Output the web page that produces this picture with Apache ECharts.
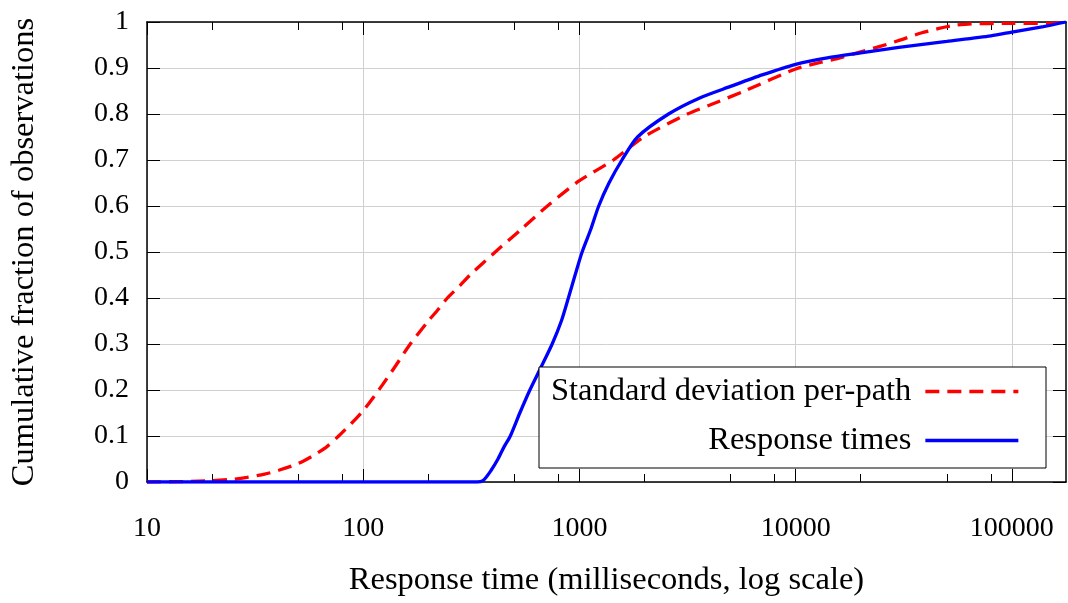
<!DOCTYPE html>
<html><head><meta charset="utf-8">
<script src="https://cdn.jsdelivr.net/npm/echarts@6/dist/echarts.min.js"></script>
<style>html,body{margin:0;padding:0;background:#fff}#c{width:1068px;height:603px}</style>
</head><body><div id="c"></div>
<script>
// ---- data ----
const seriesNames = ['Standard deviation per-path', 'Response times'];
const stdX = [10, 15, 20, 25, 29, 35, 41, 50, 59, 68, 77, 88, 100, 118, 140, 165, 200, 222, 245, 280, 315, 408, 540, 711, 1000, 1436, 1980, 3162, 4040, 5800, 10000, 13000, 16000, 20000, 25000, 30600, 38000, 46000, 55000, 65000, 100000, 150000, 178000];
const stdY = [0, 0.001, 0.003, 0.006, 0.01, 0.017, 0.026, 0.04, 0.058, 0.077, 0.1, 0.127, 0.155, 0.2, 0.25, 0.3, 0.35, 0.375, 0.4, 0.427, 0.452, 0.5, 0.55, 0.6, 0.655, 0.7, 0.75, 0.8, 0.82, 0.85, 0.898, 0.912, 0.922, 0.935, 0.948, 0.961, 0.976, 0.986, 0.993, 0.996, 0.997, 0.997, 1];
const rtX = [10, 100, 337, 360, 390, 420, 450, 479, 530, 590, 665, 748, 825, 889, 955, 1029, 1130, 1228, 1370, 1573, 1857, 2583, 3600, 5000, 7000, 10000, 14000, 20000, 30000, 50000, 80000, 100000, 140000, 178000];
const rtY = [0, 0, 0, 0.004, 0.025, 0.05, 0.078, 0.1, 0.15, 0.2, 0.25, 0.3, 0.35, 0.4, 0.45, 0.5, 0.55, 0.6, 0.65, 0.7, 0.75, 0.8, 0.835, 0.86, 0.885, 0.908, 0.922, 0.933, 0.945, 0.958, 0.97, 0.978, 0.99, 1];
const xMajorTicks = [10, 100, 1000, 10000, 100000];
const xMinorTicks = [20, 50, 80, 200, 500, 800, 2000, 5000, 8000, 20000, 50000, 80000];
const xMin = 10, xMax = 178000;
const yMin = 0, yMax = 1, yStep = 0.1;
const xTitle = 'Response time (milliseconds, log scale)';
const yTitle = 'Cumulative fraction of observations';

// ---- chart ----
const FONT = "'Liberation Serif', 'Times New Roman', serif";
const FS = 28;      // tick labels
const FS_T = 32.5;  // titles and legend
const zip = (xs, ys) => xs.map((x, i) => [x, ys[i]]);
const black = '#000';
const baseX = (extra) => Object.assign({
  type: 'log', logBase: 10, min: xMin, max: xMax, gridIndex: 0,
  axisLine: { show: false },
  axisLabel: { show: false },
  splitLine: { show: false },
  axisTick: { show: false }
}, extra);

const chart = echarts.init(document.getElementById('c'), null, { renderer: 'canvas' });
chart.setOption({
  animation: false,
  backgroundColor: '#fff',
  grid: { left: 147, right: 2, top: 22, bottom: 121, containLabel: false },
  legend: {
    data: seriesNames,
    orient: 'vertical', align: 'right',
    right: 22, top: 367,
    padding: [8, 26, 11, 12], itemGap: 16,
    itemWidth: 93, itemHeight: 14,
    backgroundColor: '#fff', borderColor: black, borderWidth: 1, borderRadius: 0,
    textStyle: { fontFamily: FONT, fontSize: FS_T, color: black, padding: [0, 9, 0, 0] },
    lineStyle: { width: 3.3 },
    itemStyle: { color: 'transparent', borderWidth: 0, opacity: 0 },
    selectedMode: false
  },
  xAxis: [
    baseX({
      position: 'bottom',
      axisLine: { show: true, lineStyle: { color: black, width: 1.5 } },
      axisTick: { show: true, inside: true, length: 13, customValues: xMajorTicks, lineStyle: { color: black, width: 1 } },
      axisLabel: { show: true, customValues: xMajorTicks, margin: 33, fontFamily: FONT, fontSize: FS, color: black,
        formatter: v => String(Math.round(v)) },
      splitLine: { show: true, lineStyle: { color: '#d0d0d0', width: 1 } },
      name: xTitle, nameLocation: 'middle', nameGap: 82,
      nameTextStyle: { fontFamily: FONT, fontSize: FS_T, color: black }
    }),
    baseX({
      position: 'bottom',
      axisTick: { show: true, inside: true, length: 8, customValues: xMinorTicks, lineStyle: { color: black, width: 1 } }
    }),
    baseX({
      position: 'top',
      axisLine: { show: true, lineStyle: { color: black, width: 1.5 } },
      axisTick: { show: true, inside: true, length: 13, customValues: xMajorTicks, lineStyle: { color: black, width: 1 } }
    }),
    baseX({
      position: 'top',
      axisTick: { show: true, inside: true, length: 8, customValues: xMinorTicks, lineStyle: { color: black, width: 1 } }
    })
  ],
  yAxis: [
    {
      type: 'value', min: yMin, max: yMax, interval: yStep, position: 'left',
      axisLine: { show: true, lineStyle: { color: black, width: 1.5 } },
      axisTick: { show: true, inside: true, length: 13, lineStyle: { color: black, width: 1 } },
      axisLabel: { margin: 18, fontFamily: FONT, fontSize: FS, color: black,
        formatter: v => String(+v.toFixed(1)) },
      splitLine: { show: true, lineStyle: { color: '#d0d0d0', width: 1 } },
      name: yTitle, nameLocation: 'middle', nameGap: 106,
      nameTextStyle: { fontFamily: FONT, fontSize: FS_T, color: black }
    },
    {
      type: 'value', min: yMin, max: yMax, interval: yStep, position: 'right',
      axisLine: { show: true, lineStyle: { color: black, width: 1.5 } },
      axisTick: { show: true, inside: true, length: 13, lineStyle: { color: black, width: 1 } },
      axisLabel: { show: false },
      splitLine: { show: false }
    }
  ],
  series: [
    {
      name: seriesNames[0], type: 'line', xAxisIndex: 0, yAxisIndex: 0,
      data: zip(stdX, stdY), symbol: 'none', smooth: 0.25,
      lineStyle: { color: '#ff0000', width: 3.3, type: [14, 8] },
      itemStyle: { color: '#ff0000' }
    },
    {
      name: seriesNames[1], type: 'line', xAxisIndex: 0, yAxisIndex: 0,
      data: zip(rtX, rtY), symbol: 'none', smooth: 0.25,
      lineStyle: { color: '#0000ff', width: 3.3 },
      itemStyle: { color: '#0000ff' }
    }
  ]
});
</script>
</body></html>
